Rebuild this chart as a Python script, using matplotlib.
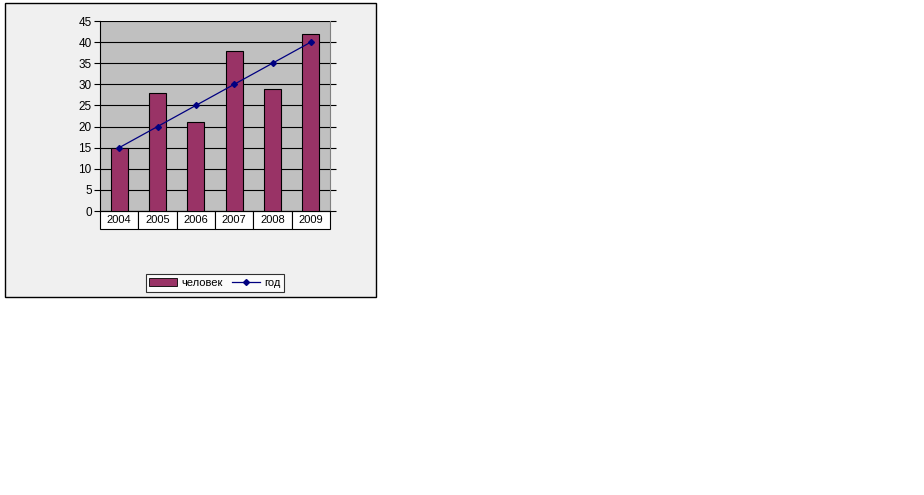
import matplotlib
matplotlib.use("Agg")
import matplotlib.pyplot as plt
from matplotlib.patches import Rectangle
from matplotlib.lines import Line2D

plt.rcParams['font.family'] = ['Liberation Sans', 'DejaVu Sans']

years = ['2004', '2005', '2006', '2007', '2008', '2009']
people = [15, 28, 21, 38, 29, 42]
year_line = [15, 20, 25, 30, 35, 40]
yticks = [0, 5, 10, 15, 20, 25, 30, 35, 40, 45]

fig = plt.figure(figsize=(9.24, 4.95), dpi=100)
fig.patch.set_facecolor('white')

# outer chart area
fig.patches.append(Rectangle((5/924, 1-297/495), 371/924, 294/495,
                             transform=fig.transFigure, facecolor='#f0f0f0',
                             edgecolor='black', linewidth=1.0, zorder=-10))

ax = fig.add_axes([100/924, 1-211/495, 230/924, 190/495])
ax.set_facecolor('#c0c0c0')
x = list(range(len(years)))
ax.bar(x, people, width=0.45, color='#993366', edgecolor='black', linewidth=0.8,
       zorder=3, label='человек')
ax.plot(x, year_line, color='#000080', linewidth=0.9, marker='D', markersize=3,
        zorder=4, label='год')
ax.set_xlim(-0.5, len(years) - 0.5)
ax.set_ylim(0, 45)
ax.set_yticks(yticks)
ax.yaxis.grid(True, color='black', linewidth=0.8, zorder=1)
ax.set_axisbelow(True)
ax.tick_params(axis='y', direction='out', length=4, labelsize=8.5, right=True,
               pad=2)
ax.set_xticks([])
for s in ['top']:
    ax.spines[s].set_visible(False)
for s in ['left', 'right', 'bottom']:
    ax.spines[s].set_color('black')
    ax.spines[s].set_linewidth(0.8)
ax.spines['right'].set_color('#808080')

tbl = ax.table(cellText=[years], cellLoc='center', bbox=[0, -18/190, 1, 18/190])
tbl.auto_set_font_size(False)
tbl.set_fontsize(8)
for cell in tbl.get_celld().values():
    cell.set_edgecolor('black')
    cell.set_linewidth(0.8)
    cell.set_facecolor('white')

handles = [Rectangle((0, 0), 1, 1, facecolor='#993366', edgecolor='black', linewidth=0.6),
           Line2D([], [], color='#000080', marker='D', markersize=3, linewidth=0.9)]
leg = fig.legend(handles, ['человек', 'год'], loc='center',
                 bbox_to_anchor=(215/924, 1-283/495), ncol=2, fontsize=8,
                 frameon=True, fancybox=False, edgecolor='black',
                 handlelength=2.5, handletextpad=0.4, columnspacing=0.8,
                 borderpad=0.35)
leg.get_frame().set_linewidth(0.8)
leg.get_frame().set_facecolor('white')

fig.savefig('out.png', dpi=100)
